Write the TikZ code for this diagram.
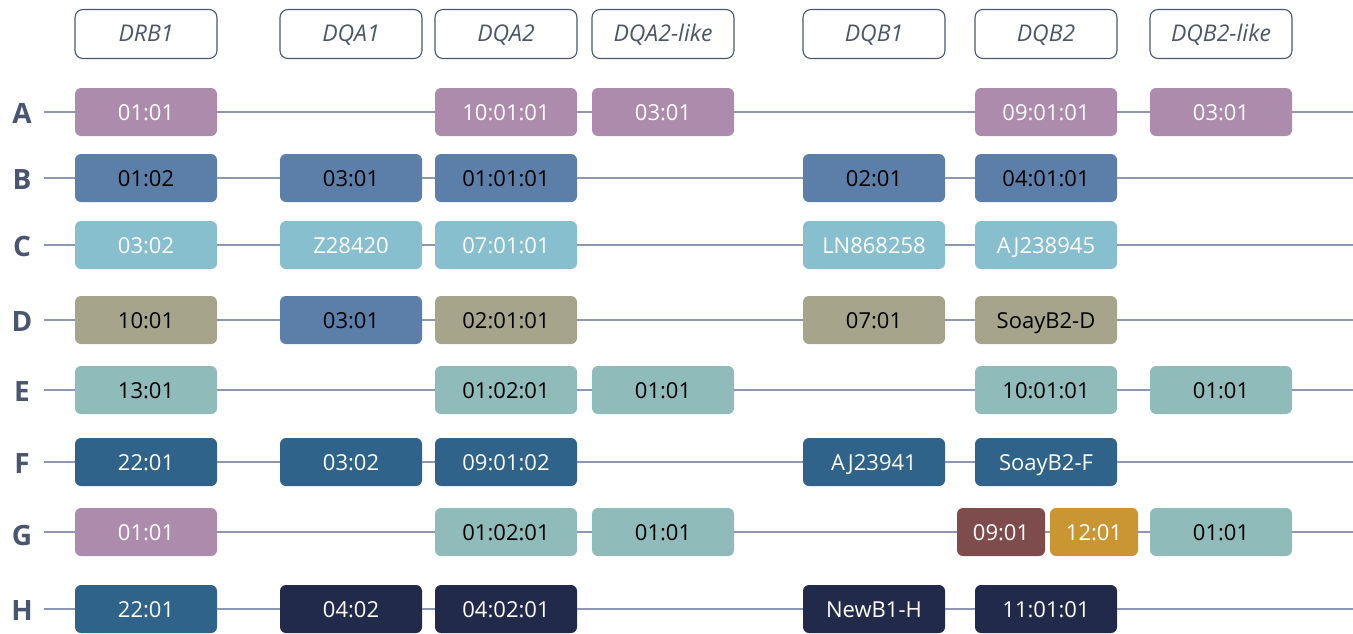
\documentclass[tikz,border=0pt]{standalone}
\usepackage{fontspec}
\setmainfont{Open Sans}
\usetikzlibrary{positioning}

\definecolor{slate}{HTML}{4A5570}
\definecolor{hdrtext}{HTML}{4D5566}
\definecolor{wirec}{HTML}{8E97B0}
\definecolor{mauve}{HTML}{AD8BAD}
\definecolor{steel}{HTML}{5B7FA8}
\definecolor{sky}{HTML}{88BFCF}
\definecolor{khaki}{HTML}{A6A58C}
\definecolor{sea}{HTML}{8FBCBA}
\definecolor{deep}{HTML}{2F6389}
\definecolor{maroon}{HTML}{7E4C4C}
\definecolor{gold}{HTML}{C99632}
\definecolor{navy}{HTML}{222A4B}

\begin{document}
\begin{tikzpicture}[x=1pt,y=-1pt,
  cell/.style={rounded corners=6pt,minimum width=142,minimum height=48,inner sep=0pt,font=\fontsize{22}{26}\selectfont,text height=16,text depth=0},
  half/.style={minimum width=88},
  hdr/.style={draw=slate,line width=1.1pt,rounded corners=8pt,fill=white,minimum width=142,minimum height=49,inner sep=0pt,text=hdrtext,font=\fontsize{23}{26}\selectfont\itshape,text height=17,text depth=2},
  row/.style={text=slate,font=\fontsize{28}{30}\selectfont\bfseries},
  wire/.style={draw=wirec,line width=1.6pt},
  ma/.style={cell,fill=mauve,text=white},
  st/.style={cell,fill=steel,text=black},
  sk/.style={cell,fill=sky,text=white},
  kh/.style={cell,fill=khaki,text=black},
  se/.style={cell,fill=sea,text=black},
  dp/.style={cell,fill=deep,text=white},
  mr/.style={cell,fill=maroon,text=white},
  gd/.style={cell,fill=gold,text=white},
  nv/.style={cell,fill=navy,text=white}]
  \useasboundingbox (0,0) rectangle (1353,633);

  % gene headers
  \node[hdr] (drb1) at (146,34) {DRB1};
  \node[hdr] (dqa1) at (351,34) {DQA1};
  \node[hdr] (dqa2) at (506,34) {DQA2};
  \node[hdr] (dqa2l) at (663,34) {DQA2-like};
  \node[hdr] (dqb1) at (874,34) {DQB1};
  \node[hdr] (dqb2) at (1046,34) {DQB2};
  \node[hdr] (dqb2l) at (1221,34) {DQB2-like};

  % haplotype A
  \node[row] (lA) at (22,113) {A};
  \coordinate (sA) at (44,112); \coordinate (eA) at (1353,112);
  \node[ma] (a1) at (146,112) {01:01};
  \node[ma] (a3) at (506,112) {10:01:01};
  \node[ma] (a4) at (663,112) {03:01};
  \node[ma] (a6) at (1046,112) {09:01:01};
  \node[ma] (a7) at (1221,112) {03:01};

  % haplotype B
  \node[row] (lB) at (22,179) {B};
  \coordinate (sB) at (44,178); \coordinate (eB) at (1353,178);
  \node[st] (b1) at (146,178) {01:02};
  \node[st] (b2) at (351,178) {03:01};
  \node[st] (b3) at (506,178) {01:01:01};
  \node[st] (b5) at (874,178) {02:01};
  \node[st] (b6) at (1046,178) {04:01:01};

  % haplotype C
  \node[row] (lC) at (22,246) {C};
  \coordinate (sC) at (44,245); \coordinate (eC) at (1353,245);
  \node[sk] (c1) at (146,245) {03:02};
  \node[sk] (c2) at (351,245) {Z28420};
  \node[sk] (c3) at (506,245) {07:01:01};
  \node[sk] (c5) at (874,245) {LN868258};
  \node[sk] (c6) at (1046,245) {AJ238945};

  % haplotype D
  \node[row] (lD) at (22,321) {D};
  \coordinate (sD) at (44,320); \coordinate (eD) at (1353,320);
  \node[kh] (d1) at (146,320) {10:01};
  \node[st] (d2) at (351,320) {03:01};
  \node[kh] (d3) at (506,320) {02:01:01};
  \node[kh] (d5) at (874,320) {07:01};
  \node[kh] (d6) at (1046,320) {SoayB2-D};

  % haplotype E
  \node[row] (lE) at (22,391) {E};
  \coordinate (sE) at (44,390); \coordinate (eE) at (1353,390);
  \node[se] (e1) at (146,390) {13:01};
  \node[se] (e3) at (506,390) {01:02:01};
  \node[se] (e4) at (663,390) {01:01};
  \node[se] (e6) at (1046,390) {10:01:01};
  \node[se] (e7) at (1221,390) {01:01};

  % haplotype F
  \node[row] (lF) at (22,463) {F};
  \coordinate (sF) at (44,462); \coordinate (eF) at (1353,462);
  \node[dp] (f1) at (146,462) {22:01};
  \node[dp] (f2) at (351,462) {03:02};
  \node[dp] (f3) at (506,462) {09:01:02};
  \node[dp] (f5) at (874,462) {AJ23941};
  \node[dp] (f6) at (1046,462) {SoayB2-F};

  % haplotype G
  \node[row] (lG) at (22,535) {G};
  \coordinate (sG) at (44,532); \coordinate (eG) at (1353,532);
  \node[ma] (g1) at (146,532) {01:01};
  \node[se] (g3) at (506,532) {01:02:01};
  \node[se] (g4) at (663,532) {01:01};
  \node[mr,half] (g6a) at (1001,532) {09:01};
  \node[gd,half] (g6b) at (1094,532) {12:01};
  \node[se] (g7) at (1221,532) {01:01};

  % haplotype H
  \node[row] (lH) at (22,610) {H};
  \coordinate (sH) at (44,609); \coordinate (eH) at (1353,609);
  \node[dp] (h1) at (146,609) {22:01};
  \node[nv] (h2) at (351,609) {04:02};
  \node[nv] (h3) at (506,609) {04:02:01};
  \node[nv] (h5) at (874,609) {NewB1-H};
  \node[nv] (h6) at (1046,609) {11:01:01};

  \path[wire] (sA) -- (a1) -- (a3) -- (a4) -- (a6) -- (a7) -- (eA);
  \path[wire] (sB) -- (b1) -- (b2) -- (b3) -- (b5) -- (b6) -- (eB);
  \path[wire] (sC) -- (c1) -- (c2) -- (c3) -- (c5) -- (c6) -- (eC);
  \path[wire] (sD) -- (d1) -- (d2) -- (d3) -- (d5) -- (d6) -- (eD);
  \path[wire] (sE) -- (e1) -- (e3) -- (e4) -- (e6) -- (e7) -- (eE);
  \path[wire] (sF) -- (f1) -- (f2) -- (f3) -- (f5) -- (f6) -- (eF);
  \path[wire] (sG) -- (g1) -- (g3) -- (g4) -- (g6a) -- (g6b) -- (g7) -- (eG);
  \path[wire] (sH) -- (h1) -- (h2) -- (h3) -- (h5) -- (h6) -- (eH);
\end{tikzpicture}
\end{document}
